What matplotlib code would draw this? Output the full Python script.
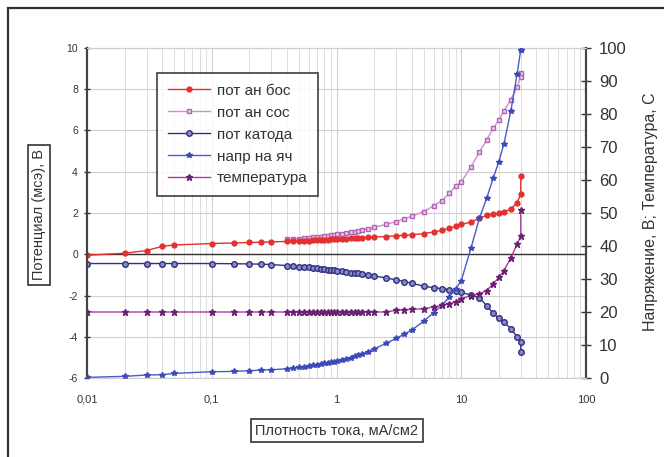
import matplotlib
matplotlib.use("Agg")
import matplotlib.pyplot as plt
from matplotlib.patches import Rectangle
from matplotlib.ticker import FixedLocator, LogLocator, NullFormatter
import numpy as np

plt.rcParams['font.family'] = ['Liberation Sans', 'DejaVu Sans']
plt.rcParams['axes.unicode_minus'] = False

# плотность тока, мА/см2
x = [0.01, 0.02, 0.03, 0.04, 0.05, 0.1, 0.15, 0.2, 0.25, 0.3,
     0.4, 0.45, 0.5, 0.55, 0.6, 0.65, 0.7, 0.75, 0.8, 0.85, 0.9, 0.95, 1.0,
     1.1, 1.2, 1.3, 1.4, 1.5, 1.6, 1.8, 2.0,
     2.5, 3, 3.5, 4, 5, 6, 7, 8, 9,
     10, 12, 14, 16, 18, 20, 22, 25, 28, 30, 30]

nan = np.nan
pot_an_bos = [-0.05, 0.05, 0.18, 0.38, 0.45, 0.52, 0.55, 0.57, 0.58, 0.6,
              0.62, 0.63, 0.64, 0.65, 0.66, 0.67, 0.68, 0.69, 0.7, 0.71, 0.72, 0.73, 0.74,
              0.75, 0.76, 0.77, 0.78, 0.79, 0.8, 0.82, 0.84,
              0.86, 0.89, 0.92, 0.95, 1.0, 1.08, 1.16, 1.26, 1.35,
              1.45, 1.56, 1.76, 1.88, 1.94, 1.98, 2.05, 2.2, 2.5, 2.9, 3.8]
pot_an_sos = [nan, nan, nan, nan, nan, nan, nan, nan, nan, nan,
              0.72, 0.74, 0.76, 0.78, 0.8, 0.82, 0.84, 0.86, 0.88, 0.9, 0.92, 0.94, 0.96,
              1.0, 1.04, 1.07, 1.1, 1.14, 1.17, 1.24, 1.3,
              1.45, 1.58, 1.72, 1.84, 2.07, 2.35, 2.6, 2.95, 3.3,
              3.5, 4.25, 4.95, 5.55, 6.1, 6.5, 6.95, 7.5, 8.1, 8.6, 8.8]
pot_katoda = [-0.45, -0.45, -0.45, -0.45, -0.45, -0.45, -0.46, -0.47, -0.48, -0.5,
              -0.55, -0.57, -0.6, -0.62, -0.64, -0.66, -0.68, -0.7, -0.72, -0.74, -0.76, -0.78, -0.8,
              -0.83, -0.86, -0.89, -0.91, -0.93, -0.95, -1.0, -1.05,
              -1.15, -1.24, -1.33, -1.4, -1.55, -1.62, -1.67, -1.72, -1.78,
              -1.85, -1.98, -2.1, -2.5, -2.85, -3.1, -3.3, -3.6, -4.0, -4.25, -4.75]
# правая ось
napr_yach = [0.2, 0.5, 0.9, 1.0, 1.4, 1.9, 2.0, 2.2, 2.4, 2.5,
             2.8, 3.0, 3.2, 3.4, 3.6, 3.8, 4.0, 4.2, 4.4, 4.6, 4.8, 5.0, 5.2,
             5.5, 5.9, 6.2, 6.6, 7.0, 7.3, 8.0, 8.8,
             10.5, 12.0, 13.3, 14.5, 17.2, 19.8, 22.0, 24.5, 27.0,
             29.5, 39.5, 48.5, 54.5, 60.5, 65.5, 71.0, 81.0, 92.0, 99.5, 99.5]
temperatura = [20, 20, 20, 20, 20, 20, 20, 20, 20, 20,
               20, 20, 20, 20, 20, 20, 20, 20, 20, 20, 20, 20, 20,
               20, 20, 20, 20, 20, 20, 20, 20,
               20, 20.5, 20.7, 20.8, 21, 21.5, 22, 22.5, 23,
               24, 25, 25.5, 26.5, 28.5, 30.5, 32.5, 36.5, 40.5, 43, 51]

xticks = [0.01, 0.1, 1, 10, 100]
xticklabels = ['0,01', '0,1', '1', '10', '100']
lticks = [-6, -4, -2, 0, 2, 4, 6, 8, 10]
rticks = [0, 10, 20, 30, 40, 50, 60, 70, 80, 90, 100]

fig = plt.figure(figsize=(6.64, 4.57), dpi=100)
fig.patches.append(Rectangle((8/664, -0.1), 1.2, 1 - 8/457 + 0.1, transform=fig.transFigure,
                             fill=False, ec='#333333', lw=1.6))

ax = fig.add_axes([87/664, 1 - 378/457, 499/664, 330/457])
ax2 = ax.twinx()

ax.set_xscale('log')
ax.set_xlim(0.01, 100)
ax.set_ylim(-6, 10)
ax2.set_ylim(0, 100)

ax.grid(True, which='major', axis='both', color='#cfcfcf', lw=0.8)
ax.grid(True, which='minor', axis='x', color='#dcdcdc', lw=0.7)
ax.axhline(0, color='#333333', lw=1.0, zorder=2)

l1, = ax.plot(x, pot_an_bos, color='#e33030', lw=1, marker='o', ms=3.5, mfc='#e33030', mec='#e33030', label='пот ан бос', zorder=5)
l2, = ax.plot(x, pot_an_sos, color='#d58ad5', lw=1, marker='s', ms=3.5, mfc='#f0c8f0', mec='#b066b0', label='пот ан сос', zorder=4)
l3, = ax.plot(x, pot_katoda, color='#303080', lw=1, marker='o', ms=4, mfc='#8a8ac8', mec='#303080', label='пот катода', zorder=4)
l4, = ax2.plot(x, napr_yach, color='#4a5ac8', lw=1, marker='*', ms=4, mfc='#3a4ab8', mec='#3a4ab8', label='напр на яч', zorder=4)
l5, = ax2.plot(x, temperatura, color='#b03a9a', lw=1, marker='*', ms=4.5, mfc='#6a2070', mec='#6a2070', label='температура', zorder=4)

ax.xaxis.set_major_locator(FixedLocator(xticks))
ax.set_xticklabels(xticklabels)
ax.xaxis.set_minor_locator(LogLocator(base=10, subs=np.arange(2, 10)))
ax.xaxis.set_minor_formatter(NullFormatter())
ax.tick_params(axis='x', which='both', length=0, pad=12, labelsize=8, labelcolor='#333333')
ax.set_yticks(lticks)
ax.tick_params(axis='y', direction='inout', length=5, width=1, pad=4, labelsize=7.5, labelcolor='#333333', color='#333333')
ax2.set_yticks(rticks)
ax2.tick_params(axis='y', direction='inout', length=7, width=1, pad=6, labelsize=12, labelcolor='#333333', color='#333333')

for a in (ax, ax2):
    a.spines['top'].set_color('#cfcfcf')
    a.spines['bottom'].set_color('#cfcfcf')
    a.spines['left'].set_color('#444444')
    a.spines['right'].set_color('#444444')
    a.spines['left'].set_linewidth(1.5)
    a.spines['right'].set_linewidth(1.5)

box = dict(boxstyle='square,pad=0.3', fc='white', ec='#333333', lw=1.2)
ax.set_ylabel('Потенциал (мсэ), В', fontsize=10.5, color='#333333', bbox=box)
ax.yaxis.set_label_coords(-0.082, 0.494)
ax.set_xlabel('Плотность тока, мА/см2', fontsize=10.5, color='#333333', bbox=box)
ax.xaxis.set_label_coords(0.501, -0.139)
ax2.set_ylabel('Напряжение, В; Температура, С', fontsize=11.5, color='#333333')
ax2.yaxis.set_label_coords(1.114, 0.503)

leg = ax.legend(handles=[l1, l2, l3, l4, l5], loc='upper left',
                bbox_to_anchor=(157/664, 1 - 73/457), bbox_transform=fig.transFigure,
                borderaxespad=0, fontsize=11, frameon=True, fancybox=False, handlelength=2.8,
                labelspacing=0.52, borderpad=0.7, handletextpad=0.4)
leg.get_frame().set_edgecolor('#222222')
leg.get_frame().set_linewidth(1.3)
leg.set_zorder(10)
for t in leg.get_texts():
    t.set_color('#333333')

fig.savefig('out.png', dpi=100)
